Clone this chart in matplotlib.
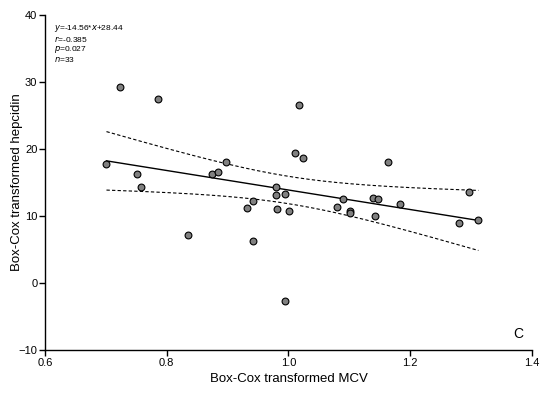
import numpy as np
import matplotlib
matplotlib.use("Agg")
import matplotlib.pyplot as plt

plt.rcParams['font.family'] = ['Liberation Sans', 'DejaVu Sans']

# Data
mcv = [0.701, 0.723, 0.751, 0.757, 0.786, 0.835, 0.874, 0.884, 0.897, 0.932,
       0.942, 0.942, 0.979, 0.979, 0.981, 0.994, 0.994, 1.001, 1.010, 1.018,
       1.024, 1.080, 1.090, 1.101, 1.101, 1.139, 1.147, 1.142, 1.163, 1.184,
       1.280, 1.297, 1.312]
hepcidin = [17.8, 29.2, 16.3, 14.3, 27.4, 7.2, 16.3, 16.6, 18.1, 11.2,
            12.2, 6.3, 14.3, 13.1, 11.1, 13.3, -2.7, 10.8, 19.4, 26.5,
            18.6, 11.3, 12.6, 10.8, 10.4, 12.7, 12.5, 10.0, 18.1, 11.8,
            8.9, 13.6, 9.4]
slope = -14.56
intercept = 28.44
stats_lines = ["$y$=-14.56*$x$+28.44", "$r$=-0.385", "$p$=0.027", "$n$=33"]
xticks = [0.6, 0.8, 1.0, 1.2, 1.4]
yticks = [-10, 0, 10, 20, 30, 40]
t_crit = 2.04  # t(0.975, df=31)

x = np.array(mcv)
y = np.array(hepcidin)
n = len(x)

fig = plt.figure(figsize=(5.42, 3.93), dpi=100)
ax = fig.add_axes([0.083, 0.1094, 0.8985, 0.8524])

xs = np.linspace(x.min(), x.max(), 200)
ys = slope * xs + intercept
resid = y - (slope * x + intercept)
s = np.sqrt(np.sum(resid ** 2) / (n - 2))
sxx = np.sum((x - x.mean()) ** 2)
se = s * np.sqrt(1.0 / n + (xs - x.mean()) ** 2 / sxx)

ax.plot(xs, ys, color='black', lw=1.0, zorder=2)
ax.plot(xs, ys + t_crit * se, color='black', lw=0.8, ls=(0, (3, 2)), zorder=2)
ax.plot(xs, ys - t_crit * se, color='black', lw=0.8, ls=(0, (3, 2)), zorder=2)
ax.scatter(x, y, s=24, facecolor='#808080', edgecolor='black', linewidth=0.8, zorder=3)

ax.set_xlim(0.6, 1.4)
ax.set_ylim(-10, 40)
ax.set_xticks(xticks)
ax.set_xticklabels([f"{v:.1f}" for v in xticks])
ax.set_yticks(yticks)
for sp in ['top', 'right']:
    ax.spines[sp].set_visible(False)
for sp in ['left', 'bottom']:
    ax.spines[sp].set_linewidth(1.0)
ax.tick_params(direction='out', length=4, width=1.0, labelsize=8, pad=1.5)

ax.set_xlabel("Box-Cox transformed MCV", fontsize=9.5, labelpad=4)
ax.set_ylabel("Box-Cox transformed hepcidin", fontsize=9.5)
ax.yaxis.set_label_coords(-0.046, 0.5)

for i, line in enumerate(stats_lines):
    ax.text(0.0195, 0.975 - i * 0.0315, line, transform=ax.transAxes,
            fontsize=6, va='top', ha='left')

ax.text(1.377, -7.6, "C", fontsize=10, ha='center', va='center')

fig.savefig("out.png", dpi=100)
